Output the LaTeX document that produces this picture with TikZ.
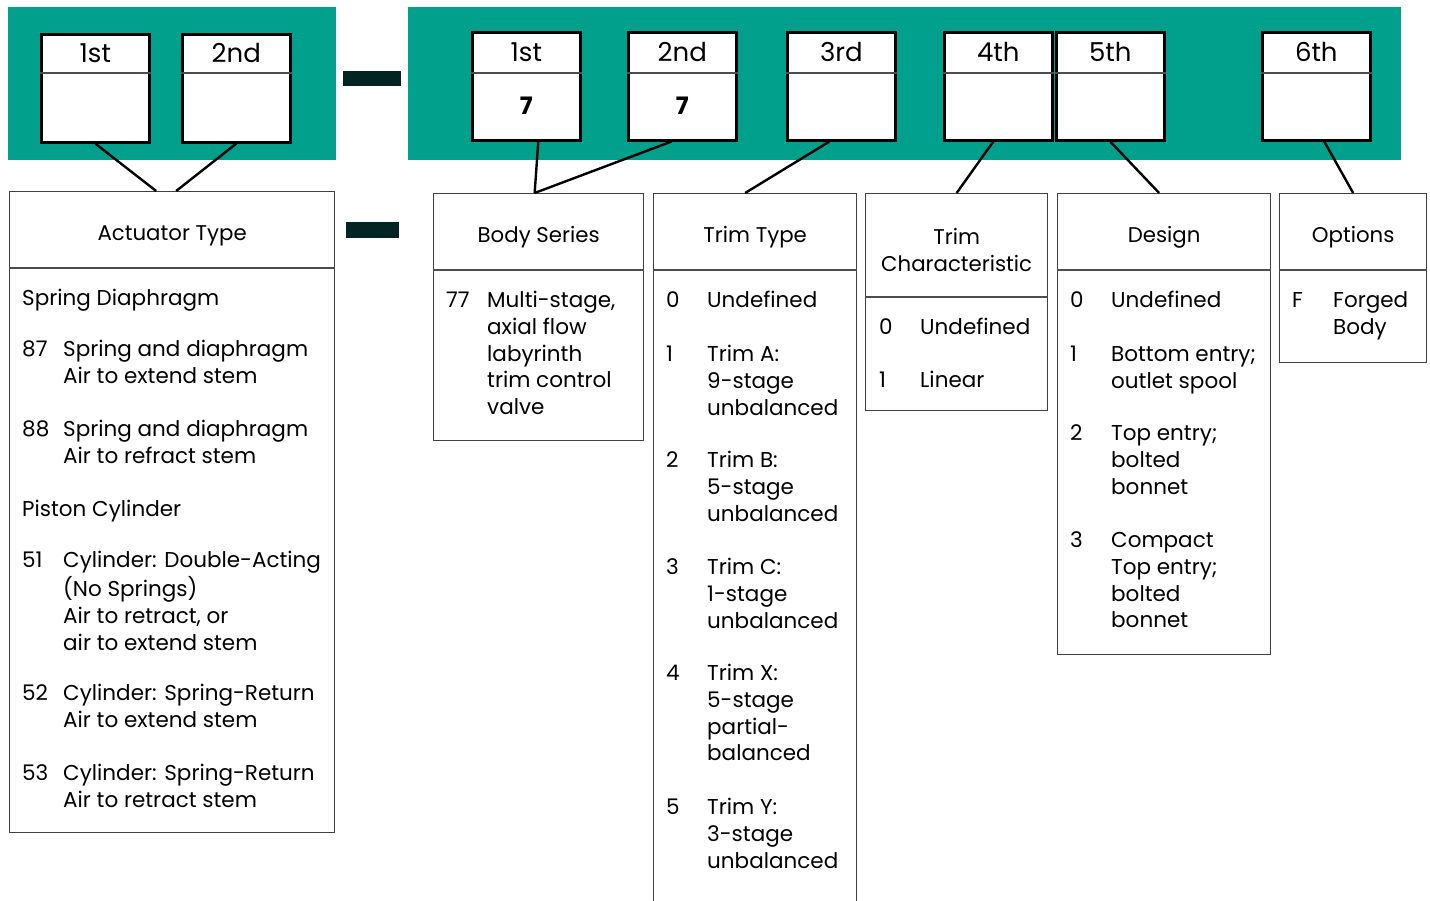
\documentclass[tikz,border=0pt]{standalone}
\usepackage{fontspec}
\setmainfont{Poppins}
\usetikzlibrary{positioning,calc}
\definecolor{teal-band}{HTML}{00A08C}
\definecolor{dash-dark}{HTML}{022423}

\tikzset{
	band/.style={fill=teal-band},
	digitbox/.style={draw=black, line width=2.6pt, fill=white, minimum width=108pt, minimum height=108pt, inner sep=0pt, anchor=north west},
	groupbox/.style={draw=black!75, line width=1.3pt, fill=white, inner sep=0pt, anchor=north west},
	split/.style={draw=black!70, line width=1.3pt},
	link/.style={line width=2.4pt},
	digitlabel/.style={inner sep=0pt, font=\fontsize{26}{30}\selectfont},
	digitvalue/.style={inner sep=0pt, font=\fontsize{24}{28}\selectfont\bfseries},
	title/.style={inner sep=0pt, align=center, font=\fontsize{21.3}{26.7}\selectfont},
	entry/.style={anchor=north west, inner sep=0pt, align=left, font=\fontsize{21.5}{26.7}\selectfont}
}

% number column + text column
\newcommand\codeline[5]{%
	\node[entry] (#1-n) at (#2,#3) {\strut #4};
	\node[entry] (#1) at (#2+41,#3) {\strut #5};}

\begin{document}
\begin{tikzpicture}[x=1pt, y=-1pt]
	\useasboundingbox (0,0) rectangle (1430,901);
	\clip (0,0) rectangle (1430,901);

	\fill[band] (8,7) rectangle (336,160);
	\fill[band] (408,7) rectangle (1401,160);
	\fill[dash-dark] (343,71) rectangle (401,86);
	\fill[dash-dark] (346,222) rectangle (399,238);

	% code digits
	\foreach \n/\x/\y/\lbl/\val in {a1/40/33/1st/, a2/181/33/2nd/, b1/471/31/1st/7, b2/627/31/2nd/7, b3/786/31/3rd/, b4/943/31/4th/, b5/1055/31/5th/, b6/1261/31/6th/}{
		\node[digitbox] (\n) at (\x,\y) {};
		\draw[split] (\n.west |- 0,73) -- (\n.east |- 0,73);
		\node[digitlabel] (\n-lbl) at ($(\n.north)!0.5!(\n.north |- 0,73)$) {\lbl};
		\node[digitvalue] (\n-val) at ($(\n.south)!0.5!(\n.south |- 0,73)+(0,-2)$) {\val};
	}

	% groups
	\node[groupbox, minimum width=325pt, minimum height=641pt] (act) at (9,191) {};
	\node[groupbox, minimum width=210pt, minimum height=247pt] (body) at (433,193) {};
	\node[groupbox, minimum width=203pt, minimum height=717pt] (trim) at (653,193) {};
	\node[groupbox, minimum width=182pt, minimum height=217pt] (char) at (865,193) {};
	\node[groupbox, minimum width=213pt, minimum height=461pt] (design) at (1057,193) {};
	\node[groupbox, minimum width=147pt, minimum height=169pt] (opts) at (1279,193) {};

	\draw[split] (act.west |- 0,268) -- (act.east |- 0,268);
	\draw[split] (body.west |- 0,270) -- (body.east |- 0,270);
	\draw[split] (trim.west |- 0,270) -- (trim.east |- 0,270);
	\draw[split] (char.west |- 0,297) -- (char.east |- 0,297);
	\draw[split] (design.west |- 0,270) -- (design.east |- 0,270);
	\draw[split] (opts.west |- 0,270) -- (opts.east |- 0,270);

	\node[title] (act-title) at ($(act.north)!0.5!(act.north |- 0,268)+(0,6)$) {Actuator Type};
	\node[title] (body-title) at ($(body.north)!0.5!(body.north |- 0,270)+(0,6)$) {Body Series};
	\node[title] (trim-title) at ($(trim.north)!0.5!(trim.north |- 0,270)+(0,6)$) {Trim Type};
	\node[title] (char-title) at ($(char.north)!0.5!(char.north |- 0,297)+(0,5)$) {Trim\\Characteristic};
	\node[title] (design-title) at ($(design.north)!0.5!(design.north |- 0,270)+(0,6)$) {Design};
	\node[title] (opts-title) at ($(opts.north)!0.5!(opts.north |- 0,270)+(0,6)$) {Options};

	% connectors
	\draw[link] (a1.south) -- ([xshift=-16pt]act.north);
	\draw[link] (a2.south) -- ([xshift=4pt]act.north);
	\draw[link] ([xshift=12pt]b1.south) -- ([xshift=-4pt]body.north);
	\draw[link] ([xshift=-11pt]b2.south) -- ([xshift=-4pt]body.north);
	\draw[link] ([xshift=-12pt]b3.south) -- ([xshift=-10pt]trim.north);
	\draw[link] ([xshift=-5pt]b4.south) -- (char.north);
	\draw[link] (b5.south) -- ([xshift=-5pt]design.north);
	\draw[link] ([xshift=8pt]b6.south) -- (opts.north);

	% actuator entries
	\node[entry] (spring) at (22,287) {\strut Spring Diaphragm};
	\codeline{act87}{22}{338}{87}{Spring and diaphragm\\Air to extend stem}
	\codeline{act88}{22}{418}{88}{Spring and diaphragm\\Air to refract stem}
	\node[entry] (piston) at (22,498) {\strut Piston Cylinder};
	\codeline{act51}{22}{549}{51}{Cylinder: Double-Acting\\(No Springs)\\Air to retract, or\\air to extend stem}
	\codeline{act52}{22}{682}{52}{Cylinder: Spring-Return\\Air to extend stem}
	\codeline{act53}{22}{762}{53}{Cylinder: Spring-Return\\Air to retract stem}

	% body series
	\codeline{body77}{446}{289}{77}{Multi-stage,\\axial flow\\labyrinth\\trim control\\valve}

	% trim type
	\codeline{trim0}{666}{289}{0}{Undefined}
	\codeline{trim1}{666}{343}{1}{Trim A:\\9-stage\\unbalanced}
	\codeline{trim2}{666}{449}{2}{Trim B:\\5-stage\\unbalanced}
	\codeline{trim3}{666}{556}{3}{Trim C:\\1-stage\\unbalanced}
	\codeline{trim4}{666}{662}{4}{Trim X:\\5-stage\\partial-\\balanced}
	\codeline{trim5}{666}{796}{5}{Trim Y:\\3-stage\\unbalanced}

	% trim characteristic
	\codeline{char0}{879}{316}{0}{Undefined}
	\codeline{char1}{879}{369}{1}{Linear}

	% design
	\codeline{design0}{1070}{289}{0}{Undefined}
	\codeline{design1}{1070}{343}{1}{Bottom entry;\\outlet spool}
	\codeline{design2}{1070}{422}{2}{Top entry;\\bolted\\bonnet}
	\codeline{design3}{1070}{529}{3}{Compact\\Top entry;\\bolted\\bonnet}

	% options
	\codeline{optsF}{1292}{289}{F}{Forged\\Body}
\end{tikzpicture}
\end{document}
